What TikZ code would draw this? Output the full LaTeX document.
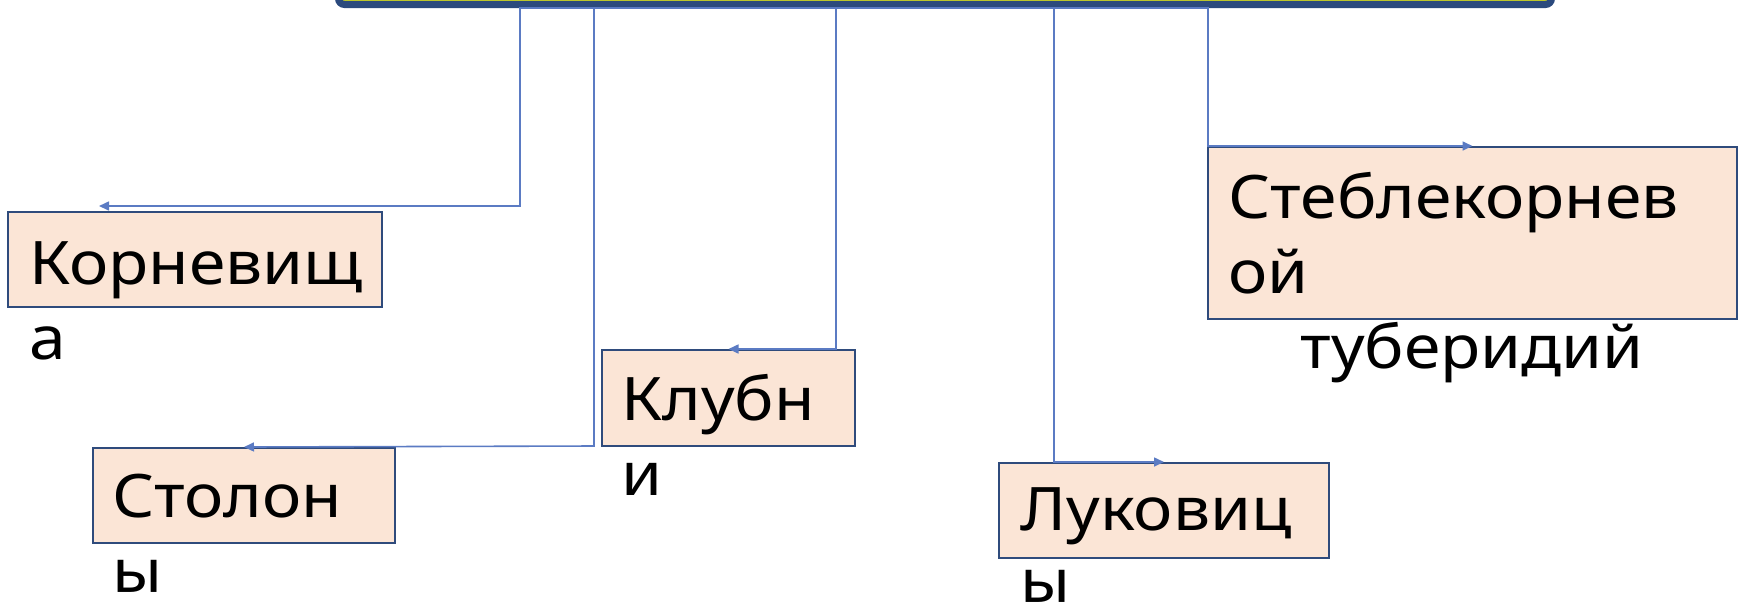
\documentclass[tikz,border=0pt]{standalone}
\usepackage{fontspec}
\setmainfont[FakeStretch=1.1]{Noto Sans}
\usetikzlibrary{arrows.meta}

\definecolor{barnavy}{HTML}{2B4A7D}
\definecolor{barlime}{HTML}{BCC62A}
\definecolor{boxline}{HTML}{2F4B7C}
\definecolor{boxfill}{HTML}{FBE5D6}
\definecolor{linkblue}{HTML}{5B7BC3}

\tikzset{
  headbar/.style = {draw = barnavy, fill = barlime, line width = 3.5pt, rounded corners = 3pt, inner sep = 0pt},
  kind/.style = {draw = boxline, fill = boxfill, line width = 1pt, inner sep = 0pt, anchor = north west},
  kindtext/.style = {anchor = base west, align = left, inner sep = 0pt, font = \fontsize{30}{37.5}\selectfont},
  link/.style = {draw = linkblue, line width = 0.8pt, -{Triangle[length = 5pt, width = 4.5pt]}}
}

\begin{document}
\begin{tikzpicture}[x = 0.5pt, y = -0.5pt]
    \useasboundingbox (0, 0) rectangle (1743, 612);

    % connectors first, the bar covers their start
    \node[headbar, minimum width = 606.5pt, minimum height = 22pt] (bar) at (945, -17.5) {};

    \node[kind, minimum width = 187pt, minimum height = 47.5pt] (rhiz) at (7, 211) {};
    \node[kind, minimum width = 151pt, minimum height = 47.5pt] (stol) at (92, 447) {};
    \node[kind, minimum width = 126.5pt, minimum height = 48pt] (tuber) at (601, 349) {};
    \node[kind, minimum width = 165pt, minimum height = 47.5pt] (bulb) at (998, 462) {};
    \node[kind, minimum width = 264.5pt, minimum height = 86pt] (tuberid) at (1207, 146) {};

    \draw[link] (bar.south) -| (520, 206) -- ([shift = {(-96, -5)}]rhiz.north);
    \draw[link] (bar.south) -| (594, 446) -- (stol.north);
    \draw[link] (bar.south) -| (836, 349) -- (tuber.north);
    \draw[link] (bar.south) -| (1054, 462) -- (bulb.north);
    \draw[link] (bar.south) -| (1208, 146) -- (tuberid.north);

    % base of a text node sits on its last line
    \node[kindtext] (rhiz-t) at ([shift = {(22, 148)}]rhiz.north west) {Корневищ\\а};
    \node[kindtext] (stol-t) at ([shift = {(20, 145)}]stol.north west) {Столон\\ы};
    \node[kindtext] (tuber-t) at ([shift = {(20, 146)}]tuber.north west) {Клубн\\и};
    \node[kindtext, font = \fontsize{30}{36}\selectfont] (bulb-t) at ([shift = {(22, 140)}]bulb.north west) {Луковиц\\ы};
    \node[kindtext] (tuberid-t) at ([shift = {(21, 222)}]tuberid.north west) {Стеблекорнев\\ой\\\hspace*{36pt}туберидий};

  \end{tikzpicture}
\end{document}
